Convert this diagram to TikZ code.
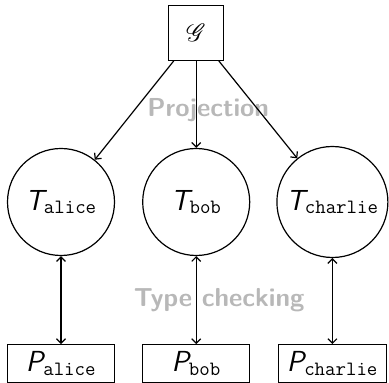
\documentclass[tikz,border=0pt]{standalone}
\usepackage{amsmath}
\usepackage{mathrsfs}
\usetikzlibrary{positioning,calc,arrows.meta}

\definecolor{stagegray}{gray}{0.72}
\newcommand{\rolename}[2]{\text{\sffamily\slshape #1}_{\text{\ttfamily #2}}}

\begin{document}
\begin{tikzpicture}[x=1pt,y=1pt,line width=1.2pt,
		>={Straight Barb[length=4.5pt,width=9pt]},
		font=\fontsize{29}{34}\selectfont,
		local/.style={draw,circle,minimum size=107pt,inner sep=4pt},
		impl/.style={draw,minimum width=107pt,minimum height=38pt,inner xsep=8pt,inner ysep=2pt},
		stage/.style={text=stagegray,font=\fontsize{26}{31}\selectfont\sffamily\bfseries}]
		\useasboundingbox (0,0) rectangle (389,383);
		\node[local] (talice) at (61,181) {$\rolename{T}{alice}$};
		\node[local] (tbob) [right=27pt of talice] {$\rolename{T}{bob}$};
		\node[local,minimum size=111pt] (tcharlie) [right=26pt of tbob] {$\rolename{T}{charlie}$};
		\node[draw,minimum size=55pt,font=\fontsize{36}{40}\selectfont] (g) [above=87pt of tbob] {$\mathscr{G}$};
		\node[impl] (palice) [below=88pt of talice] {$\rolename{P}{alice}$};
		\node[impl] (pbob) [below=88pt of tbob] {$\rolename{P}{bob}$};
		\node[impl,minimum width=108pt] (pcharlie) [below=86pt of tcharlie] {$\rolename{P}{charlie}$};
		% stage names sit under the arrows
		\node[stage] (proj) at ($(g.south)!0.5!(tbob.north)+(12,-6)$) {Projection};
		\node[stage] (check) at ($(tbob.south)!0.5!(pbob.north)+(23,0)$) {Type checking};
		\draw[->] (g) -- (talice);
		\draw[->] (g) -- (tbob);
		\draw[->] (g) -- (tcharlie);
		\draw[<->] (talice) -- (palice);
		\draw[<->] (tbob) -- (pbob);
		\draw[<->] (tcharlie) -- (pcharlie);
	\end{tikzpicture}
\end{document}
